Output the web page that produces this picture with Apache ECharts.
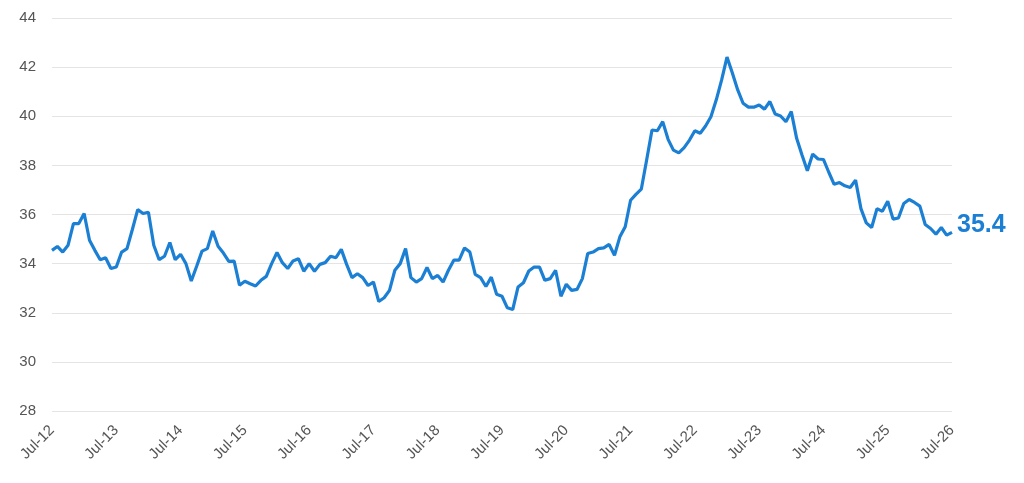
<!DOCTYPE html>
<html lang="en">
<head>
<meta charset="UTF-8">
<title>Chart</title>
<style type="text/css">
  html, body { margin: 0; padding: 0; background: #fff; }
  #main { width: 1024px; height: 483px; }
</style>
<script type="text/javascript" src="https://cdn.jsdelivr.net/npm/echarts@6/dist/echarts.min.js"></script>
</head>
<body>
<div id="main"></div>
<script type="text/javascript">
// monthly series, Jul-12 .. Jul-26
var monthNames = ['Jan', 'Feb', 'Mar', 'Apr', 'May', 'Jun', 'Jul', 'Aug', 'Sep', 'Oct', 'Nov', 'Dec'];
var startYear = 12, startMonth = 6;   // Jul-12

var values = [
  34.54, 34.70, 34.47, 34.75, 35.63, 35.63, 36.04, 34.95, 34.54, 34.16, 34.24, 33.80,
  33.86, 34.47, 34.61, 35.39, 36.20, 36.04, 36.09, 34.75, 34.16, 34.30, 34.86, 34.16,
  34.38, 34.00, 33.29, 33.89, 34.51, 34.61, 35.33, 34.71, 34.43, 34.09, 34.10, 33.12,
  33.28, 33.18, 33.09, 33.32, 33.48, 34.00, 34.45, 34.04, 33.80, 34.11, 34.20, 33.69,
  34.00, 33.69, 33.97, 34.04, 34.30, 34.24, 34.58, 33.97, 33.43, 33.59, 33.43, 33.11,
  33.25, 32.46, 32.61, 32.91, 33.73, 34.00, 34.61, 33.43, 33.25, 33.39, 33.84, 33.39,
  33.52, 33.25, 33.73, 34.14, 34.14, 34.64, 34.47, 33.56, 33.43, 33.07, 33.45, 32.75,
  32.67, 32.20, 32.13, 33.05, 33.22, 33.70, 33.86, 33.86, 33.32, 33.39, 33.73, 32.67,
  33.16, 32.91, 32.95, 33.39, 34.41, 34.47, 34.61, 34.64, 34.78, 34.34, 35.09, 35.50,
  36.58, 36.82, 37.03, 38.22, 39.44, 39.41, 39.78, 39.06, 38.62, 38.51, 38.72, 39.03,
  39.41, 39.31, 39.60, 39.98, 40.67, 41.48, 42.41, 41.76, 41.07, 40.53, 40.37, 40.37,
  40.46, 40.29, 40.60, 40.09, 40.01, 39.78, 40.19, 39.10, 38.42, 37.78, 38.46, 38.26,
  38.24, 37.72, 37.23, 37.30, 37.17, 37.10, 37.40, 36.24, 35.66, 35.47, 36.24, 36.13,
  36.54, 35.81, 35.86, 36.45, 36.61, 36.49, 36.34, 35.59, 35.43, 35.20, 35.47, 35.16,
  35.27
];
var latestLabel = '35.4';

var yTicks = { min: 28, max: 44, step: 2 };

// category labels like "Jul-12"
var categories = [];
for (var i = 0; i < values.length; i++) {
  var m = (startMonth + i) % 12;
  var y = startYear + Math.floor((startMonth + i) / 12);
  categories.push(monthNames[m] + '-' + (y < 10 ? '0' + y : y));
}

var lineColor = '#1b7fd4';
var chart = echarts.init(document.getElementById('main'));

chart.setOption({
  animation: false,
  grid: { left: 52, right: 72, top: 18, bottom: 72 },
  xAxis: {
    type: 'category',
    data: categories,
    boundaryGap: false,
    axisLine: { show: false },
    axisTick: { show: false },
    axisLabel: {
      interval: 11,
      rotate: 45,
      margin: 17,
      color: '#555',
      fontSize: 15,
      fontFamily: 'Liberation Sans, Arial, sans-serif'
    },
    splitLine: { show: false }
  },
  yAxis: {
    type: 'value',
    min: yTicks.min,
    max: yTicks.max,
    interval: yTicks.step,
    axisLine: { show: false },
    axisTick: { show: false },
    axisLabel: {
      margin: 16,
      color: '#555',
      fontSize: 15,
      fontFamily: 'Liberation Sans, Arial, sans-serif'
    },
    splitLine: { lineStyle: { color: '#e4e4e4', width: 1 } }
  },
  series: [{
    type: 'line',
    data: values,
    symbol: 'none',
    lineStyle: { color: lineColor, width: 3.2 },
    itemStyle: { color: lineColor },
    endLabel: {
      show: true,
      formatter: function () { return latestLabel; },
      color: lineColor,
      fontSize: 25,
      fontWeight: 'bold',
      fontFamily: 'Liberation Sans, Arial, sans-serif',
      distance: 5,
      offset: [0, -7]
    }
  }]
});
</script>
</body>
</html>
